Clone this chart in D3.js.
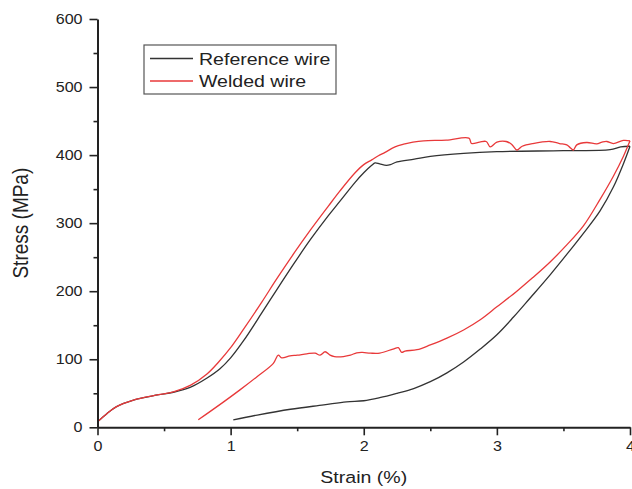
<!DOCTYPE html>
<html>
<head>
<meta charset="utf-8">
<script src="https://cdn.jsdelivr.net/npm/d3@7"></script>
<style>
  html, body { margin: 0; padding: 0; background: #fff; }
  svg { display: block; }
  text { font-family: "Liberation Sans", Arial, sans-serif; fill: #222; }
</style>
</head>
<body>
<svg id="chart" width="632" height="489"></svg>
<script>
// ---- Data (strain %, stress MPa) ----
const seriesNames = ["Reference wire", "Welded wire"];
const seriesColors = ["#333333", "#e8393a"];

const refLoading = [
  [0,8],[0.07,20],[0.14,30],[0.27,40],[0.45,47.5],[0.57,51.5],[0.70,59],[0.82,72],
  [0.92,86],[1.0,102],[1.1,128],[1.234,168],[1.346,202],[1.484,243],[1.60,276],
  [1.734,311],[1.82,332],[1.935,360],[2.0,374],[2.06,385],[2.085,388.5],[2.12,387],
  [2.17,385],[2.20,386],[2.25,390],[2.38,394],[2.5,398],[2.75,402.5],[3.0,405],
  [3.5,406.5],[3.85,408],[3.93,412],[4.0,413]
];
const refUnloading = [
  [4.0,413],[3.95,387],[3.875,353],[3.775,318],[3.65,285],[3.525,254],[3.40,224],
  [3.25,190],[3.125,162],[3.0,136],[2.875,115],[2.75,96],[2.625,80],[2.5,67],
  [2.375,57],[2.25,50],[2.12,43.5],[2.0,39],[1.87,37.5],[1.7,33],[1.45,26.5],
  [1.2,18],[1.02,11]
];
const weldLoading = [
  [0,8],[0.07,20],[0.14,30],[0.27,40],[0.45,47.5],[0.57,52],[0.70,62],[0.82,78],
  [0.91,96],[1.0,117],[1.1,145],[1.234,184],[1.346,218],[1.484,258],[1.60,290],
  [1.734,325],[1.82,347],[1.935,374],[2.0,386],[2.06,393],[2.11,399],[2.16,404],
  [2.235,412],[2.30,416],[2.37,419],[2.45,421],[2.62,422],[2.79,425],[2.81,417],
  [2.87,419],[2.92,420],[2.95,412],[3.0,419],[3.07,420],[3.11,416],[3.15,407.5],
  [3.19,413],[3.27,417],[3.40,420],[3.47,417],[3.525,415],[3.55,411],[3.575,407.5],
  [3.60,415],[3.675,418.5],[3.75,416.5],[3.79,419],[3.825,420],[3.875,417],
  [3.95,421.5],[4.0,421]
];
const weldUnloading = [
  [4.0,421],[3.95,398],[3.875,369],[3.775,335],[3.65,296],[3.525,268],[3.40,243],
  [3.27,220],[3.15,200],[3.0,177],[2.875,158],[2.75,143],[2.625,131],[2.5,121],
  [2.4,114],[2.31,112],[2.285,110],[2.26,117],[2.22,115],[2.12,109],[2.05,109],
  [1.99,110],[1.947,109.5],[1.90,106],[1.847,104],[1.78,104],[1.747,106],[1.71,111],
  [1.672,106],[1.634,109],[1.572,108],[1.5,106],[1.446,105],[1.384,102],[1.358,106],
  [1.321,94],[1.196,74],[1.07,55],[0.945,37],[0.757,11]
];

const xMajorTicks = [0, 1, 2, 3, 4];
const xMinorTicks = [0.5, 1.5, 2.5, 3.5];
const yMajorTicks = [0, 100, 200, 300, 400, 500, 600];
const yMinorTicks = [50, 150, 250, 350, 450, 550];
const xTitle = "Strain (%)";
const yTitle = "Stress (MPa)";

// ---- Drawing ----
const svg = d3.select("#chart");
const SX = 1.15; // horizontal text stretch of the reference image

const x = d3.scaleLinear().domain([0, 4]).range([97.5, 630]);
const y = d3.scaleLinear().domain([0, 600]).range([427.3, 19]);

const line = d3.line()
  .x(d => x(d[0])).y(d => y(d[1]))
  .curve(d3.curveCatmullRom.alpha(0.5));

const series = [
  { name: seriesNames[0], color: seriesColors[0], parts: [refLoading, refUnloading] },
  { name: seriesNames[1], color: seriesColors[1], parts: [weldLoading, weldUnloading] }
];

series.forEach(s => {
  s.parts.forEach(p => {
    svg.append("path")
      .attr("d", line(p))
      .attr("fill", "none")
      .attr("stroke", s.color)
      .attr("stroke-width", 1.3)
      .attr("stroke-linejoin", "round");
  });
});

// Axes
function styleAxis(g) {
  g.selectAll(".domain").attr("stroke", "#222").attr("stroke-width", 2);
  g.selectAll(".tick line").attr("stroke", "#222").attr("stroke-width", 1.6);
}

const gy = svg.append("g").attr("transform", `translate(${x(0)},0)`)
  .call(d3.axisLeft(y).tickValues(yMajorTicks).tickSize(8).tickSizeOuter(0).tickPadding(5));
gy.call(styleAxis);
gy.selectAll("text").attr("font-size", 14).attr("fill", "#222")
  .attr("transform", `scale(${SX},1)`);

const gyMinor = svg.append("g").attr("transform", `translate(${x(0)},0)`)
  .call(d3.axisLeft(y).tickValues(yMinorTicks).tickSize(4).tickFormat(""));
gyMinor.select(".domain").remove();
gyMinor.call(styleAxis);

const gx = svg.append("g").attr("transform", `translate(0,${y(0)})`)
  .call(d3.axisBottom(x).tickValues(xMajorTicks).tickSize(8).tickSizeOuter(0).tickPadding(6)
    .tickFormat(d3.format("d")));
gx.call(styleAxis);
gx.selectAll("text").attr("font-size", 14).attr("fill", "#222")
  .attr("transform", `scale(${SX},1)`);

const gxMinor = svg.append("g").attr("transform", `translate(0,${y(0)})`)
  .call(d3.axisBottom(x).tickValues(xMinorTicks).tickSize(4).tickFormat(""));
gxMinor.select(".domain").remove();
gxMinor.call(styleAxis);

// Axis titles
svg.append("text")
  .attr("transform", `translate(${(x(0) + x(4)) / 2},483) scale(${SX},1)`)
  .attr("text-anchor", "middle")
  .attr("font-size", 17)
  .text(xTitle);

svg.append("text")
  .attr("transform", `translate(28,${(y(0) + y(600)) / 2}) scale(${SX},1) rotate(-90)`)
  .attr("text-anchor", "middle")
  .attr("font-size", 19)
  .text(yTitle);

// Legend
const lg = svg.append("g");
lg.append("rect")
  .attr("x", 144).attr("y", 45).attr("width", 192).attr("height", 49)
  .attr("fill", "#fff").attr("stroke", "#555").attr("stroke-width", 1.2);
series.forEach((s, i) => {
  const ly = 58.5 + i * 22.5;
  lg.append("line")
    .attr("x1", 150).attr("x2", 193).attr("y1", ly).attr("y2", ly)
    .attr("stroke", s.color).attr("stroke-width", 1.3);
  lg.append("text")
    .attr("transform", `translate(199,${ly + 6.3}) scale(${SX},1)`)
    .attr("font-size", 17)
    .text(s.name);
});
</script>
</body>
</html>
